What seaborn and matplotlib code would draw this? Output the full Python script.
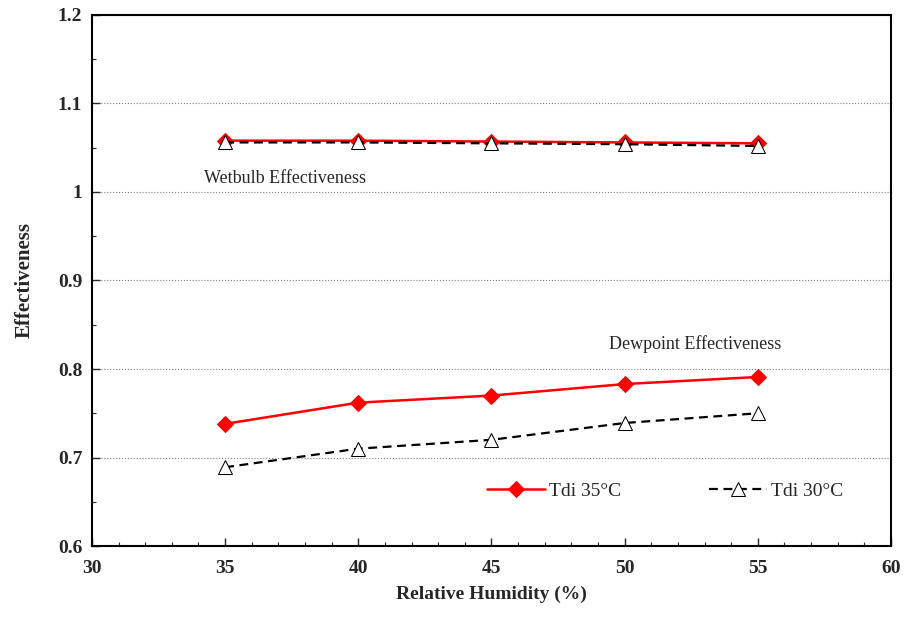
import seaborn as sns
import matplotlib.pyplot as plt
import pandas as pd
from matplotlib.ticker import MultipleLocator

# relative humidity (%)
rh = [35, 40, 45, 50, 55]

# Tdi 35°C
wetbulb_35 = [1.058, 1.058, 1.057, 1.056, 1.055]
dewpoint_35 = [0.738, 0.762, 0.770, 0.783, 0.791]

# Tdi 30°C
wetbulb_30 = [1.056, 1.056, 1.055, 1.054, 1.052]
dewpoint_30 = [0.689, 0.710, 0.720, 0.739, 0.750]

sns.set_style('white')
plt.rcParams['font.family'] = ['Liberation Serif', 'DejaVu Serif']

fig = plt.figure(figsize=(9.06, 6.19), dpi=100)
ax = fig.add_axes([0.1015, 0.1179, 0.8819, 0.8579])

red_kw = dict(color='red', marker='D', markersize=8, markerfacecolor='red',
              markeredgecolor='red', linewidth=1.8)
blk_kw = dict(color='black', marker='^', markersize=10, markerfacecolor='white',
              markeredgecolor='black', linewidth=1.6, dashes=(4, 2.5))

sns.lineplot(x=rh, y=dewpoint_35, ax=ax, label='Tdi 35°C', **red_kw)
sns.lineplot(x=rh, y=wetbulb_35, ax=ax, **red_kw)
sns.lineplot(x=rh, y=dewpoint_30, ax=ax, label='Tdi 30°C', **blk_kw)
sns.lineplot(x=rh, y=wetbulb_30, ax=ax, **blk_kw)

ax.set_xlim(30, 60)
ax.set_ylim(0.6, 1.2)
ax.xaxis.set_major_locator(MultipleLocator(5))
ax.xaxis.set_minor_locator(MultipleLocator(1))
ax.yaxis.set_major_locator(MultipleLocator(0.1))
ax.yaxis.set_minor_locator(MultipleLocator(0.05))
ax.set_yticks([0.6, 0.7, 0.8, 0.9, 1.0, 1.1, 1.2])
ax.set_yticklabels(['0.6', '0.7', '0.8', '0.9', '1', '1.1', '1.2'])

ax.tick_params(which='both', direction='in', left=True, bottom=True,
               top=False, right=False)
ax.tick_params(which='major', length=6, width=1, labelsize=14, pad=7)
ax.tick_params(axis='x', which='major', pad=10)
ax.tick_params(which='minor', length=3, width=0.8)
for lab in ax.get_xticklabels() + ax.get_yticklabels():
    lab.set_fontweight('bold')

ax.grid(axis='y', which='major', linestyle=':', color='gray', linewidth=0.8)
for s in ax.spines.values():
    s.set_color('black')
    s.set_linewidth(1.5)

ax.set_xlabel('Relative Humidity (%)', fontsize=14, fontweight='bold', labelpad=6)
ax.set_ylabel('Effectiveness', fontsize=15, fontweight='bold', labelpad=17)

ax.text(34.2, 1.0158, 'Wetbulb Effectiveness', fontsize=13, va='center', ha='left')
ax.text(49.4, 0.828, 'Dewpoint Effectiveness', fontsize=13, va='center', ha='left')

ax.legend(loc='center', bbox_to_anchor=(0.717, 0.104), ncol=2, frameon=False,
          fontsize=14, columnspacing=4.5, handlelength=3, handletextpad=0.2)

plt.savefig('out.png', dpi=100)
